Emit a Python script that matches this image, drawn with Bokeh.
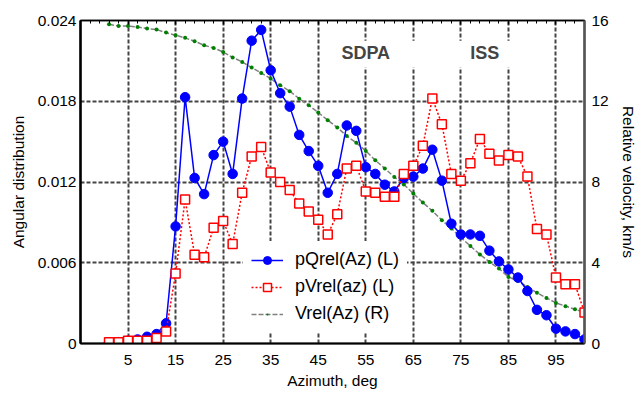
from bokeh.plotting import figure
from bokeh.models import (Range1d, LinearAxis, FixedTicker, CustomJSTickFormatter,
                          Legend, LegendItem, Label, BoxAnnotation)
from bokeh.embed import file_html
from bokeh.resources import INLINE

# ---------------- data ----------------
azimuth = [1, 3, 5, 7, 9, 11, 13, 15, 17, 19, 21, 23, 25, 27, 29, 31, 33, 35, 37, 39,
           41, 43, 45, 47, 49, 51, 53, 55, 57, 59, 61, 63, 65, 67, 69, 71, 73, 75, 77, 79,
           81, 83, 85, 87, 89, 91, 93, 95, 97, 99, 101]

p_q_rel = [0.0001, 0.0001, 0.0002, 0.0003, 0.0005, 0.0007, 0.0015, 0.0087, 0.0183, 0.0123,
           0.0111, 0.0140, 0.0150, 0.0126, 0.0182, 0.0225, 0.0233, 0.0203, 0.0186, 0.0176,
           0.0155, 0.0143, 0.0132, 0.0112, 0.0126, 0.0162, 0.0158, 0.0131, 0.0126, 0.0118,
           0.0113, 0.0123, 0.0124, 0.0130, 0.0144, 0.0121, 0.0089, 0.0081, 0.0081, 0.0080,
           0.0069, 0.0061, 0.0055, 0.0049, 0.0039, 0.0025, 0.0021, 0.0011, 0.0009, 0.0007,
           0.0003]

p_v_rel = [0.0001, 0.0001, 0.0002, 0.0002, 0.0002, 0.0004, 0.0009, 0.0052, 0.0107, 0.0066,
           0.0064, 0.0086, 0.0091, 0.0074, 0.0112, 0.0139, 0.0146, 0.0127, 0.0120, 0.0114,
           0.0104, 0.0098, 0.0092, 0.0081, 0.0096, 0.0130, 0.0132, 0.0113, 0.0112, 0.0109,
           0.0109, 0.0126, 0.0132, 0.0147, 0.0182, 0.0163, 0.0126, 0.0121, 0.0134, 0.0152,
           0.0141, 0.0136, 0.0140, 0.0139, 0.0124, 0.0085, 0.0081, 0.0049, 0.0044, 0.0044,
           0.0023]

v_rel = [15.81, 15.73, 15.73, 15.68, 15.60, 15.55, 15.40, 15.27, 15.14, 14.97,
         14.77, 14.64, 14.44, 14.17, 13.95, 13.67, 13.40, 13.12, 12.79, 12.50,
         12.13, 11.80, 11.44, 11.06, 10.70, 10.28, 9.94, 9.54, 9.08, 8.67,
         8.25, 7.88, 7.43, 6.98, 6.57, 6.11, 5.70, 5.25, 4.83, 4.41,
         4.04, 3.71, 3.30, 3.09, 2.80, 2.51, 2.26, 2.01, 1.85, 1.70, 1.54]

x_ticks = [5, 15, 25, 35, 45, 55, 65, 75, 85, 95]
y_left_ticks = [0, 0.006, 0.012, 0.018, 0.024]
y_right_ticks = [0, 4, 8, 12, 16]
top_minor_ticks = [-3, -1, 1, 3, 5, 7, 9, 11, 13, 15, 17, 19, 21, 23, 25, 27, 29, 31, 33, 35,
                   37, 39, 41, 43, 45, 47, 49, 51, 53, 55, 57, 59, 61, 63, 65, 67, 69, 71, 73,
                   75, 77, 79, 81, 83, 85, 87, 89, 91, 93, 95, 97, 99]

series_labels = ["pQrel(Az) (L)", "pVrel(az) (L)", "Vrel(Az) (R)"]
region_labels = ["SDPA", "ISS"]

FONT = "Liberation Sans"

# ---------------- figure ----------------
p = figure(width=639, height=394, output_backend="svg", toolbar_location=None,
           x_range=Range1d(-5, 101), y_range=Range1d(0, 0.024),
           min_border_left=80, min_border_right=51, min_border_top=20, min_border_bottom=51)
p.extra_y_ranges = {"right": Range1d(0, 16)}
p.background_fill_color = "white"
p.border_fill_color = "white"
p.outline_line_color = "black"
p.outline_line_width = 1.5

# grids
p.xgrid.ticker = FixedTicker(ticks=x_ticks)
p.ygrid.ticker = FixedTicker(ticks=[0.006, 0.012, 0.018])
for g in (p.xgrid, p.ygrid):
    g.grid_line_color = "#444444"
    g.grid_line_width = 2
    g.grid_line_dash = "4 2"


def style_axis(ax, label_standoff, title_standoff):
    ax.axis_label_text_font = FONT
    ax.axis_label_text_font_style = "normal"
    ax.axis_label_text_font_size = "15.5px"
    ax.axis_label_text_color = "black"
    ax.axis_label_standoff = title_standoff
    ax.major_label_text_font = FONT
    ax.major_label_text_font_size = "15.5px"
    ax.major_label_text_color = "black"
    ax.major_label_standoff = label_standoff
    ax.major_tick_out = 0
    ax.major_tick_in = 0
    ax.minor_tick_out = 0
    ax.minor_tick_in = 0


# bottom axis
xa = p.xaxis[0]
xa.ticker = FixedTicker(ticks=x_ticks)
xa.axis_label = "Azimuth, deg"
style_axis(xa, 11, 4)
xa.axis_line_width = 2
xa.axis_line_color = "black"

# left axis
ya = p.yaxis[0]
ya.ticker = FixedTicker(ticks=y_left_ticks)
ya.formatter = CustomJSTickFormatter(code='return tick == 0 ? "0" : tick.toFixed(3);')
ya.axis_label = "Angular distribution"
style_axis(ya, 4, 8)
ya.axis_line_width = 2.5
ya.axis_line_color = "black"

# right axis
ra = LinearAxis(y_range_name="right", ticker=FixedTicker(ticks=y_right_ticks))
ra.axis_label = "Relative velocity, km/s"
style_axis(ra, 7, 8)
ra.axis_line_width = 2.5
ra.axis_line_color = "#555555"
p.add_layout(ra, "right")

# top axis (ticks only)
ta = LinearAxis(ticker=FixedTicker(ticks=x_ticks, minor_ticks=top_minor_ticks),
                formatter=CustomJSTickFormatter(code='return "";'))
ta.major_label_text_font_size = "0px"
ta.major_label_standoff = 0
ta.major_tick_out = 0
ta.major_tick_in = 4
ta.minor_tick_out = 0
ta.minor_tick_in = 3
ta.axis_line_width = 1.5
ta.axis_line_color = "black"
ta.major_tick_line_width = 1.5
p.add_layout(ta, "above")

# ---------------- series ----------------
g_line = p.line(azimuth, v_rel, y_range_name="right", line_color="#808080",
                line_width=1.5, line_dash="5 2")
g_pts = p.scatter(azimuth, v_rel, y_range_name="right", marker="dot", size=16,
                  line_color="#008000", fill_color="#008000")
b_line = p.line(azimuth, p_q_rel, line_color="#0000ff", line_width=1.5)
b_pts = p.scatter(azimuth, p_q_rel, size=9.5, fill_color="#0000ff", line_color="#0000ff")
r_line = p.line(azimuth, p_v_rel, line_color="#ff0000", line_width=1.5, line_dash="2 2")
r_pts = p.scatter(azimuth, p_v_rel, marker="square", size=9, line_color="#ff0000",
                  fill_color="white", line_width=1.5)

# white band behind region labels
p.add_layout(BoxAnnotation(left=47, right=90, bottom=0.0205, top=0.0225,
                           fill_color="white", fill_alpha=1, line_alpha=0))
p.add_layout(Label(x=55, y=0.0216, text=region_labels[0], text_font=FONT,
                   text_font_style="bold", text_font_size="18px",
                   text_align="center", text_baseline="middle"))
p.add_layout(Label(x=80, y=0.0216, text=region_labels[1], text_font=FONT,
                   text_font_style="bold", text_font_size="18px",
                   text_align="center", text_baseline="middle"))

legend = Legend(items=[LegendItem(label=series_labels[0], renderers=[b_line, b_pts]),
                       LegendItem(label=series_labels[1], renderers=[r_line, r_pts]),
                       LegendItem(label=series_labels[2], renderers=[g_line, g_pts])],
                location=(163, 11))
legend.label_text_font = FONT
legend.label_text_font_size = "18px"
legend.label_text_color = "black"
legend.glyph_width = 32
legend.glyph_height = 20
legend.label_height = 20
legend.spacing = 6
legend.padding = 8
legend.margin = 0
legend.label_standoff = 12
legend.background_fill_color = "white"
legend.background_fill_alpha = 1
legend.border_line_alpha = 0
p.add_layout(legend)

open("out.html", "w").write(file_html(p, INLINE))
